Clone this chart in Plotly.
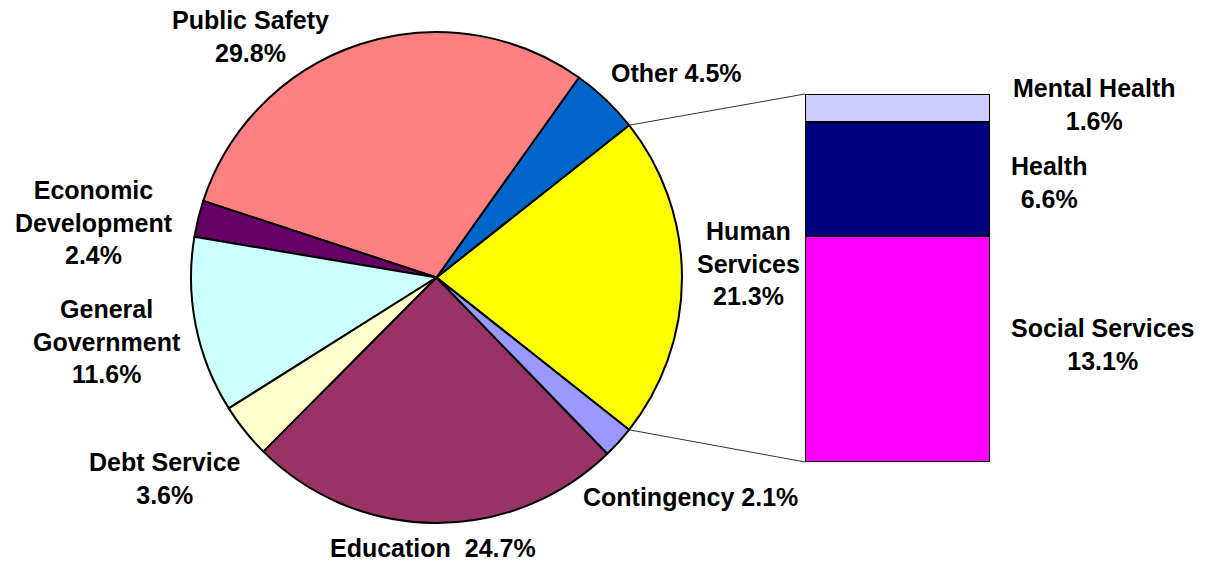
import math
import plotly.graph_objects as go

# ---------------- data ----------------
pie_labels = ["Human Services", "Other", "Public Safety", "Economic Development",
              "General Government", "Debt Service", "Education", "Contingency"]
pie_values = [21.3, 4.5, 29.8, 2.4, 11.6, 3.6, 24.7, 2.1]
pie_colors = ["#FFFF00", "#0066CC", "#FF8080", "#660066",
              "#CCFFFF", "#FFFFCC", "#993366", "#9999FF"]

bar_labels = ["Social Services", "Health", "Mental Health"]
bar_values = [13.1, 6.6, 1.6]
bar_colors = ["#FF00FF", "#000080", "#CCCCFF"]

# label texts
pie_label_text = {
    "Public Safety": "Public Safety<br>29.8%",
    "Other": "Other 4.5%",
    "Economic Development": "Economic<br>Development<br>2.4%",
    "General Government": "General<br>Government<br>11.6%",
    "Debt Service": "Debt Service<br>3.6%",
    "Education": "Education  24.7%",
    "Contingency": "Contingency 2.1%",
    "Human Services": "Human<br>Services<br>21.3%",
}
bar_label_text = {
    "Mental Health": "Mental Health<br>1.6%",
    "Health": "Health<br>6.6%",
    "Social Services": "Social Services<br>13.1%",
}

# ---------------- layout geometry (pixels) ----------------
W, H = 1205, 561
PIE_CX, PIE_CY, PIE_R = 436.5, 277.5, 245.5
BAR_X0, BAR_X1, BAR_Y0, BAR_Y1 = 805, 990, 94, 462   # top=Y0, bottom=Y1

label_pos = {
    "Public Safety": (250, 37),
    "Other": (676, 73),
    "Economic Development": (94, 223),
    "General Government": (107, 341),
    "Debt Service": (165, 478),
    "Education": (433, 548),
    "Contingency": (690, 497),
    "Human Services": (748, 263),
    "Mental Health": (1094, 104),
    "Health": (1049, 182),
    "Social Services": (1102, 344),
}

FONT = dict(family="Arial, Liberation Sans, sans-serif", size=25, color="black", weight="bold")

hs_share = pie_values[0] / sum(pie_values)
half_angle_deg = hs_share * 360 / 2

fig = go.Figure()

fig.add_trace(go.Pie(
    labels=pie_labels,
    values=pie_values,
    sort=False,
    direction="counterclockwise",
    rotation=90 - half_angle_deg,
    marker=dict(colors=pie_colors, line=dict(color="black", width=2)),
    textinfo="none",
    hoverinfo="label+percent",
    showlegend=False,
    domain=dict(
        x=[(PIE_CX - PIE_R) / W, (PIE_CX + PIE_R) / W],
        y=[1 - (PIE_CY + PIE_R) / H, 1 - (PIE_CY - PIE_R) / H],
    ),
))

for lab, val, col in zip(bar_labels, bar_values, bar_colors):
    fig.add_trace(go.Bar(
        x=[0], y=[val], name=lab,
        marker=dict(color=col, line=dict(color="black", width=2.5)),
        xaxis="x2", yaxis="y2", showlegend=False, width=1,
        hoverinfo="name+y",
    ))

bar_total = sum(bar_values)

# connector lines from pie edge of Human Services to bar corners
a = math.radians(half_angle_deg)
px_top = (PIE_CX + PIE_R * math.cos(a), PIE_CY - PIE_R * math.sin(a))
px_bot = (PIE_CX + PIE_R * math.cos(a), PIE_CY + PIE_R * math.sin(a))
shapes = [
    dict(type="line", xref="paper", yref="paper",
         x0=px_top[0] / W, y0=1 - px_top[1] / H, x1=BAR_X0 / W, y1=1 - BAR_Y0 / H,
         line=dict(color="#333333", width=1)),
    dict(type="line", xref="paper", yref="paper",
         x0=px_bot[0] / W, y0=1 - px_bot[1] / H, x1=BAR_X0 / W, y1=1 - BAR_Y1 / H,
         line=dict(color="#333333", width=1)),
]

annotations = []
all_text = {**pie_label_text, **bar_label_text}
for key, txt in all_text.items():
    x, y = label_pos[key]
    annotations.append(dict(
        text=txt, x=x / W, y=1 - y / H, xref="paper", yref="paper",
        xanchor="center", yanchor="middle", showarrow=False, font=FONT, align="center",
    ))

fig.update_layout(
    width=W, height=H,
    margin=dict(l=0, r=0, t=0, b=0, pad=0),
    paper_bgcolor="white", plot_bgcolor="white",
    barmode="stack", bargap=0,
    xaxis2=dict(domain=[BAR_X0 / W, BAR_X1 / W], range=[-0.5, 0.5], visible=False,
                fixedrange=True, anchor="y2"),
    yaxis2=dict(domain=[1 - BAR_Y1 / H, 1 - BAR_Y0 / H], range=[0, bar_total], visible=False,
                fixedrange=True, anchor="x2"),
    shapes=shapes,
    annotations=annotations,
)

fig.write_html("out.html", config={"displayModeBar": False},
               post_script="document.body.style.margin='0px';document.body.style.overflow='hidden';")
